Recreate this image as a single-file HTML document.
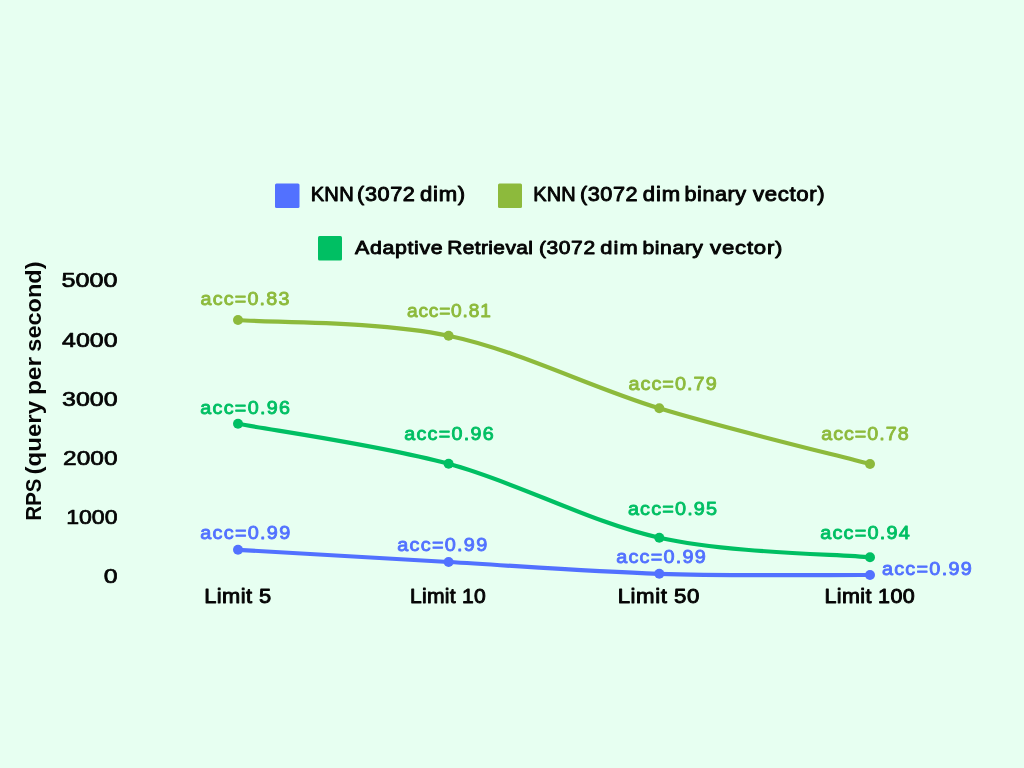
<!DOCTYPE html>
<html><head><meta charset="utf-8"><style>
html,body{margin:0;padding:0;background:#E7FFF1;width:1024px;height:768px;overflow:hidden}
svg{display:block;will-change:transform}
text{font-family:"Liberation Sans",sans-serif;font-kerning:none}
</style></head><body>
<svg width="1024" height="768" viewBox="0 0 1024 768">
<rect width="1024" height="768" fill="#E7FFF1"/>
<rect x="275" y="183.5" width="24.5" height="24.5" rx="1.5" fill="#5271FF"/>
<rect x="498" y="183.5" width="24" height="24.5" rx="1.5" fill="#8DBA3C"/>
<rect x="318" y="236" width="24" height="24.5" rx="1.5" fill="#00BF63"/>
<text transform="translate(310.70,201.45) scale(1.0270,1)" x="0" y="0" font-size="19.62" font-weight="400" fill="#050505" stroke="#050505" stroke-width="0.9" stroke-linejoin="round" textLength="41.87" lengthAdjust="spacing">KNN</text>
<text transform="translate(357.11,201.45) scale(1.1052,1)" x="0" y="0" font-size="19.62" font-weight="400" fill="#050505" stroke="#050505" stroke-width="0.9" stroke-linejoin="round" textLength="52.29" lengthAdjust="spacing">(3072</text>
<text transform="translate(420.02,201.45) scale(1.1272,1)" x="0" y="0" font-size="19.62" font-weight="400" fill="#050505" stroke="#050505" stroke-width="0.9" stroke-linejoin="round" textLength="40.05" lengthAdjust="spacing">dim)</text>
<text transform="translate(533.21,201.45) scale(1.0179,1)" x="0" y="0" font-size="19.62" font-weight="400" fill="#050505" stroke="#050505" stroke-width="0.9" stroke-linejoin="round" textLength="41.72" lengthAdjust="spacing">KNN</text>
<text transform="translate(579.91,201.45) scale(1.1045,1)" x="0" y="0" font-size="19.62" font-weight="400" fill="#050505" stroke="#050505" stroke-width="0.9" stroke-linejoin="round" textLength="52.27" lengthAdjust="spacing">(3072</text>
<text transform="translate(642.82,201.45) scale(1.1271,1)" x="0" y="0" font-size="19.62" font-weight="400" fill="#050505" stroke="#050505" stroke-width="0.9" stroke-linejoin="round" textLength="33.17" lengthAdjust="spacing">dim</text>
<text transform="translate(684.55,201.45) scale(1.1033,1)" x="0" y="0" font-size="19.62" font-weight="400" fill="#050505" stroke="#050505" stroke-width="0.9" stroke-linejoin="round" textLength="55.69" lengthAdjust="spacing">binary</text>
<text transform="translate(753.07,201.45) scale(1.1331,1)" x="0" y="0" font-size="19.62" font-weight="400" fill="#050505" stroke="#050505" stroke-width="0.9" stroke-linejoin="round" textLength="63.20" lengthAdjust="spacing">vector)</text>
<text transform="translate(355.11,253.75) scale(1.1308,1)" x="0" y="0" font-size="18.90" font-weight="400" fill="#050505" stroke="#050505" stroke-width="0.9" stroke-linejoin="round" textLength="77.46" lengthAdjust="spacing">Adaptive</text>
<text transform="translate(447.14,253.75) scale(1.1046,1)" x="0" y="0" font-size="18.90" font-weight="400" fill="#050505" stroke="#050505" stroke-width="0.9" stroke-linejoin="round" textLength="77.68" lengthAdjust="spacing">Retrieval</text>
<text transform="translate(538.95,253.75) scale(1.1124,1)" x="0" y="0" font-size="18.90" font-weight="400" fill="#050505" stroke="#050505" stroke-width="0.9" stroke-linejoin="round" textLength="50.49" lengthAdjust="spacing">(3072</text>
<text transform="translate(600.33,253.75) scale(1.1573,1)" x="0" y="0" font-size="18.90" font-weight="400" fill="#050505" stroke="#050505" stroke-width="0.9" stroke-linejoin="round" textLength="32.28" lengthAdjust="spacing">dim</text>
<text transform="translate(642.38,253.75) scale(1.1222,1)" x="0" y="0" font-size="18.90" font-weight="400" fill="#050505" stroke="#050505" stroke-width="0.9" stroke-linejoin="round" textLength="54.01" lengthAdjust="spacing">binary</text>
<text transform="translate(710.07,253.75) scale(1.1732,1)" x="0" y="0" font-size="18.90" font-weight="400" fill="#050505" stroke="#050505" stroke-width="0.9" stroke-linejoin="round" textLength="61.75" lengthAdjust="spacing">vector)</text>
<text x="61.64" y="287.45" font-size="20.20" font-weight="400" fill="#050505" stroke="#050505" stroke-width="0.7" stroke-linejoin="round" textLength="55.99" lengthAdjust="spacingAndGlyphs">5000</text>
<text x="62.08" y="346.65" font-size="20.62" font-weight="400" fill="#050505" stroke="#050505" stroke-width="0.7" stroke-linejoin="round" textLength="55.55" lengthAdjust="spacingAndGlyphs">4000</text>
<text x="62.00" y="405.75" font-size="20.34" font-weight="400" fill="#050505" stroke="#050505" stroke-width="0.7" stroke-linejoin="round" textLength="55.63" lengthAdjust="spacingAndGlyphs">3000</text>
<text x="63.12" y="464.84" font-size="21.04" font-weight="400" fill="#050505" stroke="#050505" stroke-width="0.7" stroke-linejoin="round" textLength="54.49" lengthAdjust="spacingAndGlyphs">2000</text>
<text x="66.19" y="523.65" font-size="20.20" font-weight="400" fill="#050505" stroke="#050505" stroke-width="0.7" stroke-linejoin="round" textLength="51.36" lengthAdjust="spacingAndGlyphs">1000</text>
<text x="103.78" y="582.55" font-size="20.76" font-weight="400" fill="#050505" stroke="#050505" stroke-width="0.7" stroke-linejoin="round" textLength="13.84" lengthAdjust="spacingAndGlyphs">0</text>
<text transform="translate(204.16,602.75) scale(1.1048,1)" x="0" y="0" font-size="19.77" font-weight="400" fill="#050505" stroke="#050505" stroke-width="0.9" stroke-linejoin="round" textLength="60.65" lengthAdjust="spacing">Limit 5</text>
<text transform="translate(409.92,602.75) scale(1.0669,1)" x="0" y="0" font-size="19.77" font-weight="400" fill="#050505" stroke="#050505" stroke-width="0.9" stroke-linejoin="round" textLength="71.10" lengthAdjust="spacing">Limit 10</text>
<text transform="translate(617.63,602.75) scale(1.1253,1)" x="0" y="0" font-size="19.77" font-weight="400" fill="#050505" stroke="#050505" stroke-width="0.9" stroke-linejoin="round" textLength="72.68" lengthAdjust="spacing">Limit 50</text>
<text transform="translate(824.39,602.75) scale(1.0882,1)" x="0" y="0" font-size="19.77" font-weight="400" fill="#050505" stroke="#050505" stroke-width="0.9" stroke-linejoin="round" textLength="83.08" lengthAdjust="spacing">Limit 100</text>
<path d="M238.00,320.00 C273.10,322.62 378.38,320.98 448.60,335.70 C518.82,350.42 589.07,386.92 659.30,408.30 C729.53,429.68 834.88,454.72 870.00,464.00" fill="none" stroke="#8DBA3C" stroke-width="4.2" stroke-linecap="round" stroke-linejoin="round"/>
<circle cx="238" cy="320" r="5" fill="#8DBA3C"/>
<circle cx="448.6" cy="335.7" r="5" fill="#8DBA3C"/>
<circle cx="659.3" cy="408.3" r="5" fill="#8DBA3C"/>
<circle cx="870" cy="464" r="5" fill="#8DBA3C"/>
<path d="M238.00,423.80 C273.10,430.47 378.38,444.82 448.60,463.80 C518.82,482.78 589.07,522.12 659.30,537.70 C729.53,553.28 834.88,554.03 870.00,557.30" fill="none" stroke="#00BF63" stroke-width="4.2" stroke-linecap="round" stroke-linejoin="round"/>
<circle cx="238" cy="423.8" r="5" fill="#00BF63"/>
<circle cx="448.6" cy="463.8" r="5" fill="#00BF63"/>
<circle cx="659.3" cy="537.7" r="5" fill="#00BF63"/>
<circle cx="870" cy="557.3" r="5" fill="#00BF63"/>
<path d="M238.00,549.80 C273.10,551.83 378.38,558.00 448.60,562.00 C518.82,566.00 589.07,571.63 659.30,573.80 C729.53,575.97 834.88,574.80 870.00,575.00" fill="none" stroke="#5271FF" stroke-width="4.2" stroke-linecap="round" stroke-linejoin="round"/>
<circle cx="238" cy="549.8" r="5" fill="#5271FF"/>
<circle cx="448.6" cy="562" r="5" fill="#5271FF"/>
<circle cx="659.3" cy="573.8" r="5" fill="#5271FF"/>
<circle cx="870" cy="575" r="5" fill="#5271FF"/>
<text transform="translate(200.51,304.77) scale(1.04,1)" x="0" y="0" font-size="18.93" font-weight="400" fill="#8DBA3C" stroke="#8DBA3C" stroke-width="0.9" stroke-linejoin="round" textLength="85.48" lengthAdjust="spacing">acc=0.83</text>
<text transform="translate(406.94,316.77) scale(1.04,1)" x="0" y="0" font-size="18.36" font-weight="400" fill="#8DBA3C" stroke="#8DBA3C" stroke-width="0.9" stroke-linejoin="round" textLength="80.62" lengthAdjust="spacing">acc=0.81</text>
<text transform="translate(628.41,389.76) scale(1.04,1)" x="0" y="0" font-size="19.07" font-weight="400" fill="#8DBA3C" stroke="#8DBA3C" stroke-width="0.9" stroke-linejoin="round" textLength="84.89" lengthAdjust="spacing">acc=0.79</text>
<text transform="translate(821.21,439.77) scale(1.04,1)" x="0" y="0" font-size="18.93" font-weight="400" fill="#8DBA3C" stroke="#8DBA3C" stroke-width="0.9" stroke-linejoin="round" textLength="84.13" lengthAdjust="spacing">acc=0.78</text>
<text transform="translate(200.31,413.77) scale(1.04,1)" x="0" y="0" font-size="18.93" font-weight="400" fill="#00BF63" stroke="#00BF63" stroke-width="0.9" stroke-linejoin="round" textLength="86.15" lengthAdjust="spacing">acc=0.96</text>
<text transform="translate(404.21,439.77) scale(1.04,1)" x="0" y="0" font-size="18.93" font-weight="400" fill="#00BF63" stroke="#00BF63" stroke-width="0.9" stroke-linejoin="round" textLength="85.96" lengthAdjust="spacing">acc=0.96</text>
<text transform="translate(627.91,514.76) scale(1.04,1)" x="0" y="0" font-size="19.07" font-weight="400" fill="#00BF63" stroke="#00BF63" stroke-width="0.9" stroke-linejoin="round" textLength="85.75" lengthAdjust="spacing">acc=0.95</text>
<text transform="translate(820.21,538.76) scale(1.04,1)" x="0" y="0" font-size="19.07" font-weight="400" fill="#00BF63" stroke="#00BF63" stroke-width="0.9" stroke-linejoin="round" textLength="86.18" lengthAdjust="spacing">acc=0.94</text>
<text transform="translate(200.31,538.76) scale(1.04,1)" x="0" y="0" font-size="19.07" font-weight="400" fill="#5271FF" stroke="#5271FF" stroke-width="0.9" stroke-linejoin="round" textLength="86.42" lengthAdjust="spacing">acc=0.99</text>
<text transform="translate(397.31,550.76) scale(1.04,1)" x="0" y="0" font-size="19.07" font-weight="400" fill="#5271FF" stroke="#5271FF" stroke-width="0.9" stroke-linejoin="round" textLength="86.42" lengthAdjust="spacing">acc=0.99</text>
<text transform="translate(616.21,562.76) scale(1.04,1)" x="0" y="0" font-size="19.07" font-weight="400" fill="#5271FF" stroke="#5271FF" stroke-width="0.9" stroke-linejoin="round" textLength="86.04" lengthAdjust="spacing">acc=0.99</text>
<text transform="translate(881.91,574.76) scale(1.04,1)" x="0" y="0" font-size="19.07" font-weight="400" fill="#5271FF" stroke="#5271FF" stroke-width="0.9" stroke-linejoin="round" textLength="86.33" lengthAdjust="spacing">acc=0.99</text>
<text transform="translate(40.80,520.56) rotate(-90)" x="0" y="0" font-size="22.82" font-weight="700" fill="#050505" textLength="41.86" lengthAdjust="spacingAndGlyphs">RPS</text>
<text transform="translate(40.80,474.40) rotate(-90)" x="0" y="0" font-size="22.82" font-weight="700" fill="#050505" textLength="73.43" lengthAdjust="spacingAndGlyphs">(query</text>
<text transform="translate(40.80,395.12) rotate(-90)" x="0" y="0" font-size="22.82" font-weight="700" fill="#050505" textLength="38.19" lengthAdjust="spacingAndGlyphs">per</text>
<text transform="translate(40.80,351.63) rotate(-90)" x="0" y="0" font-size="22.82" font-weight="700" fill="#050505" textLength="90.20" lengthAdjust="spacingAndGlyphs">second)</text>
</svg>
</body></html>
